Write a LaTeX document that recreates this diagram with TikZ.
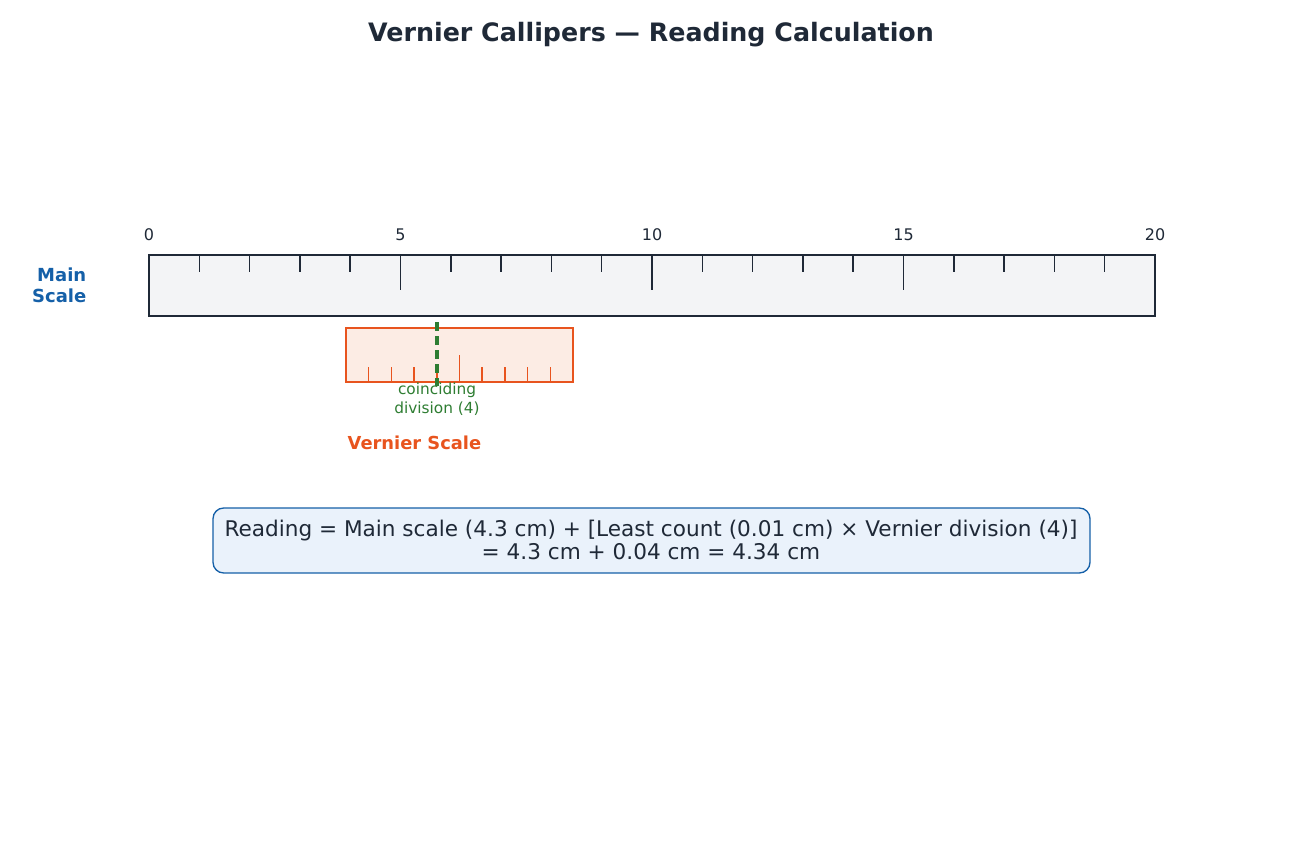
\documentclass[tikz,border=0pt]{standalone}
\usepackage{fontspec}
\setmainfont{DejaVu Sans}
\usetikzlibrary{positioning}

\definecolor{inkdark}{RGB}{31,41,55}
\definecolor{mainblue}{RGB}{21,96,168}
\definecolor{mainfill}{RGB}{243,244,246}
\definecolor{vernorange}{RGB}{232,84,30}
\definecolor{vernfill}{RGB}{252,236,228}
\definecolor{matchgreen}{RGB}{46,125,50}
\definecolor{boxfill}{RGB}{234,242,251}

\begin{document}
\begin{tikzpicture}[x=0.75pt,y=-0.75pt,
    mainlabel/.style={font=\fontsize{12}{14}\selectfont, text=inkdark},
    maintick/.style={inkdark, line width=1.1pt},
    verntick/.style={vernorange, line width=1.1pt}]

        \useasboundingbox (0,0) rectangle (1300,845);

        \node[font=\bfseries\fontsize{19}{22}\selectfont, text=inkdark] (title) at (651,35)
        {Vernier Callipers — Reading Calculation};

        % main scale
        \draw[inkdark, line width=1.5pt, fill=mainfill] (149,255) rectangle (1155,316);

        \foreach \i in {1,...,19}{
            \pgfmathsetmacro{\xx}{149+\i*50.3}
            \pgfmathtruncatemacro{\rem}{mod(\i,5)}
            \ifnum\rem=0
                \draw[maintick] (\xx,255) -- (\xx,290);
            \else
                \draw[maintick] (\xx,255) -- (\xx,272);
            \fi
        }

        \foreach \n in {0,5,10,15,20}{
            \node[mainlabel] (lab\n) at (149+\n*50.3,235) {\n};
        }

        \node[font=\bfseries\fontsize{13.5}{16}\selectfont, text=mainblue, align=right,
        anchor=east] (mainname) at (91,285) {Main\\Scale};

        % vernier scale
        \draw[vernorange, line width=1.2pt, fill=vernfill] (346,328) rectangle (573,382);

        \foreach \j in {1,2,3,4,6,7,8,9}{
            \draw[verntick] (346+\j*22.7,382) -- (346+\j*22.7,367);
        }
        \draw[verntick] (346+5*22.7,382) -- (346+5*22.7,355);

        \draw[matchgreen, line width=2.6pt, dash pattern=on 7pt off 3.5pt] (437,322) -- (437,386);

        \node[font=\fontsize{11.5}{14}\selectfont, text=matchgreen, align=center] (match)
        at (437,399) {coinciding\\division (4)};

        \node[font=\bfseries\fontsize{13.4}{16}\selectfont, text=vernorange, anchor=west]
        (vernname) at (343,443) {Vernier Scale};

        % reading
        \draw[mainblue, line width=1pt, fill=boxfill, rounded corners=8pt]
        (213,508) rectangle (1090,573);
        \node[font=\fontsize{16.2}{17.4}\selectfont, text=inkdark, align=center] (reading)
        at (651,540) {Reading = Main scale (4.3 cm) + [Least count (0.01 cm) × Vernier division (4)]\\
        = 4.3 cm + 0.04 cm = 4.34 cm};

    \end{tikzpicture}
\end{document}
